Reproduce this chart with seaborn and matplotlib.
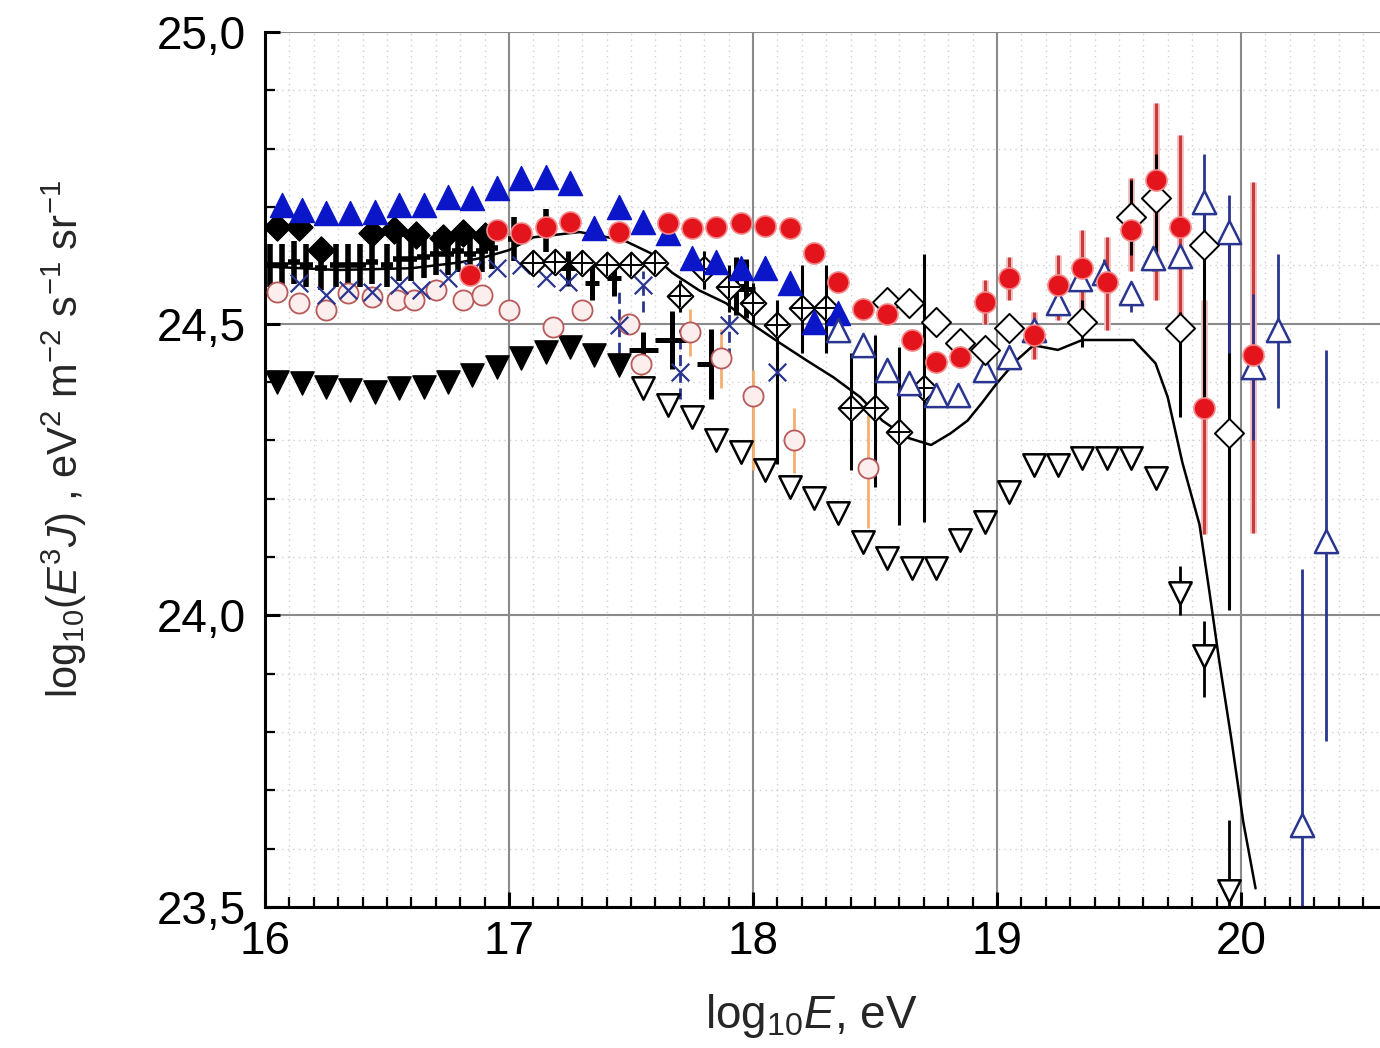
import matplotlib
matplotlib.use("Agg")
import numpy as np
import pandas as pd
import seaborn as sns
import matplotlib.pyplot as plt
from matplotlib.ticker import MultipleLocator, FuncFormatter

# ---------------- data (log10 E, log10 E^3 J) ----------------
blue_fill_x = [16.07, 16.15, 16.25, 16.35, 16.45, 16.55, 16.65, 16.75, 16.85, 16.95, 17.05, 17.15,
               17.25, 17.35, 17.45, 17.55, 17.65, 17.75, 17.85, 17.95, 18.05, 18.15, 18.25, 18.35]
blue_fill_y = [24.703, 24.695, 24.690, 24.690, 24.691, 24.703, 24.703, 24.717, 24.715, 24.732, 24.750, 24.751,
               24.741, 24.664, 24.700, 24.674, 24.655, 24.612, 24.605, 24.595, 24.595, 24.569, 24.503, 24.518]

dia_fill_x = [16.05, 16.14, 16.23, 16.44, 16.53, 16.62, 16.73, 16.81, 16.90]
dia_fill_y = [24.666, 24.666, 24.626, 24.655, 24.660, 24.652, 24.647, 24.655, 24.650]

cross_small_x = [16.02, 16.07, 16.12, 16.17, 16.23, 16.29, 16.34, 16.39, 16.44, 16.50, 16.55, 16.60,
                 16.65, 16.70, 16.75, 16.79, 16.84, 16.89, 16.93, 17.02, 17.15]
cross_small_y = [24.600, 24.600, 24.605, 24.600, 24.595, 24.600, 24.600, 24.600, 24.605, 24.600, 24.610, 24.610,
                 24.615, 24.620, 24.620, 24.625, 24.620, 24.625, 24.630, 24.645, 24.660]

cross_big_x = [17.24, 17.34, 17.43, 17.55, 17.67, 17.83, 17.93, 17.97]
cross_big_y = [24.595, 24.570, 24.578, 24.455, 24.472, 24.430, 24.565, 24.560]
cross_big_xerr = [0.03, 0.03, 0.03, 0.06, 0.07, 0.06, 0.04, 0.04]
cross_big_yerr = [0.03, 0.03, 0.03, 0.03, 0.05, 0.06, 0.05, 0.05]

xmark_x = [16.14, 16.25, 16.34, 16.44, 16.55, 16.64, 16.75, 16.85, 16.95, 17.05, 17.15, 17.24,
           17.45, 17.55, 17.70, 17.90, 18.10]
xmark_y = [24.569, 24.549, 24.557, 24.554, 24.566, 24.557, 24.578, 24.592, 24.595, 24.600, 24.578, 24.571,
           24.497, 24.566, 24.417, 24.497, 24.417]
xmark_lo = [24.569, 24.549, 24.557, 24.554, 24.566, 24.557, 24.578, 24.592, 24.595, 24.600, 24.578, 24.571,
            24.42, 24.52, 24.37, 24.44, 24.262]
xmark_hi = [24.569, 24.549, 24.557, 24.554, 24.566, 24.557, 24.578, 24.592, 24.595, 24.600, 24.578, 24.571,
            24.56, 24.59, 24.49, 24.57, 24.494]

circ_x = [16.05, 16.14, 16.25, 16.34, 16.44, 16.54, 16.61, 16.70, 16.81, 16.89, 17.00, 17.18,
          17.30, 17.49, 17.54, 17.74, 17.87, 18.00, 18.17, 18.47]
circ_y = [24.554, 24.535, 24.523, 24.552, 24.545, 24.540, 24.540, 24.557, 24.540, 24.549, 24.523, 24.494,
          24.523, 24.499, 24.431, 24.485, 24.441, 24.376, 24.300, 24.252]
circ_lo = [24.554, 24.535, 24.523, 24.552, 24.545, 24.540, 24.540, 24.557, 24.540, 24.549, 24.523, 24.494,
           24.523, 24.499, 24.41, 24.445, 24.39, 24.25, 24.244, 24.15]
circ_hi = [24.554, 24.535, 24.523, 24.552, 24.545, 24.540, 24.540, 24.557, 24.540, 24.549, 24.523, 24.494,
           24.523, 24.499, 24.45, 24.525, 24.49, 24.42, 24.355, 24.35]

tri_dn_fill_x = [16.05, 16.15, 16.25, 16.35, 16.45, 16.55, 16.65, 16.75, 16.85, 16.95, 17.05, 17.15,
                 17.25, 17.35, 17.45]
tri_dn_fill_y = [24.400, 24.398, 24.391, 24.386, 24.383, 24.389, 24.391, 24.400, 24.412, 24.425, 24.441, 24.451,
                 24.460, 24.446, 24.429]

tri_dn_open_x = [17.55, 17.65, 17.75, 17.85, 17.95, 18.05, 18.15, 18.25, 18.35, 18.45, 18.55, 18.65,
                 18.75, 18.85, 18.95, 19.05, 19.15, 19.25, 19.35, 19.45, 19.55, 19.65, 19.75, 19.85, 19.95]
tri_dn_open_y = [24.389, 24.360, 24.340, 24.300, 24.280, 24.249, 24.220, 24.201, 24.175, 24.125, 24.098, 24.081,
                 24.081, 24.129, 24.160, 24.211, 24.257, 24.257, 24.269, 24.269, 24.269, 24.235, 24.039, 23.931, 23.528]
tri_dn_err_x = [19.75, 19.85, 19.95]
tri_dn_err_y = [24.039, 23.931, 23.528]
tri_dn_err_lo = [24.00, 23.86, 23.50]
tri_dn_err_hi = [24.085, 23.99, 23.65]

red_x = [16.84, 16.95, 17.05, 17.15, 17.25, 17.45, 17.65, 17.75, 17.85, 17.95, 18.05, 18.15,
         18.25, 18.35, 18.45, 18.55, 18.65, 18.75, 18.85, 18.95, 19.05, 19.15, 19.25, 19.35,
         19.45, 19.55, 19.65, 19.75, 19.85, 20.05]
red_y = [24.583, 24.660, 24.655, 24.666, 24.674, 24.657, 24.672, 24.664, 24.666, 24.672, 24.667, 24.664,
         24.621, 24.571, 24.525, 24.516, 24.472, 24.434, 24.443, 24.537, 24.578, 24.480, 24.566, 24.595,
         24.571, 24.660, 24.746, 24.666, 24.355, 24.446]
red_err_x = [18.95, 19.05, 19.15, 19.25, 19.35, 19.45, 19.55, 19.65, 19.75, 19.85, 20.05]
red_err_y = [24.537, 24.578, 24.480, 24.566, 24.595, 24.571, 24.660, 24.746, 24.666, 24.355, 24.446]
red_err_lo = [24.50, 24.54, 24.44, 24.506, 24.523, 24.489, 24.59, 24.54, 24.506, 24.14, 24.142]
red_err_hi = [24.575, 24.615, 24.52, 24.617, 24.66, 24.648, 24.75, 24.878, 24.823, 24.54, 24.743]

dia_open_x = [18.55, 18.64, 18.75, 18.85, 18.95, 19.05, 19.35, 19.55, 19.65, 19.75, 19.85, 19.95]
dia_open_y = [24.537, 24.535, 24.503, 24.467, 24.455, 24.492, 24.503, 24.683, 24.715, 24.492, 24.635, 24.312]
dia_open_lo = [24.537, 24.535, 24.503, 24.467, 24.455, 24.492, 24.46, 24.617, 24.60, 24.34, 24.37, 24.01]
dia_open_hi = [24.537, 24.535, 24.503, 24.467, 24.455, 24.492, 24.54, 24.746, 24.79, 24.52, 24.70, 24.64]

tri_up_open_x = [18.35, 18.45, 18.55, 18.64, 18.75, 18.84, 18.95, 19.05, 19.15, 19.25, 19.34, 19.44,
                 19.55, 19.64, 19.75, 19.85, 19.95, 20.05, 20.15, 20.25, 20.35]
tri_up_open_y = [24.489, 24.463, 24.420, 24.398, 24.377, 24.377, 24.420, 24.443, 24.489, 24.535, 24.576, 24.587,
                 24.552, 24.612, 24.616, 24.708, 24.657, 24.425, 24.489, 23.641, 24.127]
tri_up_open_lo = [24.489, 24.463, 24.420, 24.398, 24.377, 24.377, 24.420, 24.443, 24.489, 24.515, 24.56, 24.57,
                  24.52, 24.59, 24.60, 24.64, 24.45, 24.30, 24.355, 23.50, 23.785]
tri_up_open_hi = [24.489, 24.463, 24.420, 24.398, 24.377, 24.377, 24.420, 24.443, 24.489, 24.555, 24.60, 24.61,
                  24.57, 24.63, 24.63, 24.79, 24.72, 24.55, 24.62, 24.08, 24.455]

oplus_x = [17.10, 17.19, 17.30, 17.40, 17.50, 17.60, 17.70, 17.80, 17.90, 18.00, 18.10, 18.20,
           18.30, 18.40, 18.50, 18.60, 18.70]
oplus_y = [24.604, 24.605, 24.604, 24.600, 24.600, 24.604, 24.547, 24.593, 24.563, 24.535, 24.497, 24.527,
           24.527, 24.355, 24.355, 24.314, 24.389]
oplus_lo = [24.604, 24.605, 24.604, 24.600, 24.600, 24.604, 24.52, 24.56, 24.52, 24.50, 24.26, 24.45,
            24.45, 24.25, 24.22, 24.155, 24.16]
oplus_hi = [24.604, 24.605, 24.604, 24.600, 24.600, 24.604, 24.575, 24.625, 24.60, 24.57, 24.54, 24.60,
            24.60, 24.45, 24.48, 24.46, 24.62]

model_x = [16.00, 16.30, 16.60, 16.80, 16.90, 17.00, 17.10, 17.29, 17.47, 17.58, 17.67, 17.78,
           17.89, 17.99, 18.11, 18.22, 18.33, 18.44, 18.53, 18.63, 18.73, 18.81, 18.88, 18.94,
           19.00, 19.08, 19.15, 19.25, 19.35, 19.56, 19.65, 19.70, 19.76, 19.83, 19.87, 19.91,
           19.96, 20.01, 20.06]
model_y = [24.598, 24.592, 24.595, 24.605, 24.614, 24.626, 24.648, 24.657, 24.643, 24.621, 24.587, 24.557,
           24.535, 24.501, 24.467, 24.437, 24.408, 24.374, 24.334, 24.305, 24.292, 24.312, 24.334, 24.365,
           24.398, 24.437, 24.463, 24.455, 24.472, 24.472, 24.432, 24.374, 24.262, 24.156, 24.043, 23.925,
           23.790, 23.645, 23.532]

x_ticks = [16, 17, 18, 19, 20]
y_ticks = [23.5, 24.0, 24.5, 25.0]

# ---------------- style ----------------
sns.set_style("white")
plt.rcParams["font.family"] = ["Liberation Sans", "DejaVu Sans"]
plt.rcParams["mathtext.fontset"] = "custom"
plt.rcParams["mathtext.rm"] = "Liberation Sans"
plt.rcParams["mathtext.it"] = "Liberation Sans:italic"
plt.rcParams["mathtext.default"] = "regular"

fig = plt.figure(figsize=(13.8, 10.48), dpi=100)
ax = fig.add_axes([0.192, 0.1345, 0.808, 0.835])

FS = 33

# grids
ax.xaxis.set_major_locator(MultipleLocator(1))
ax.xaxis.set_minor_locator(MultipleLocator(0.1))
ax.yaxis.set_major_locator(MultipleLocator(0.5))
ax.yaxis.set_minor_locator(MultipleLocator(0.1))
ax.grid(which="minor", color="#d0d0d0", linestyle=(0, (1, 3)), linewidth=1.0)
ax.grid(which="major", color="#8a8a8a", linestyle="-", linewidth=1.5)
ax.set_axisbelow(True)


def ebar(x, y, lo, hi, color, lw, ls="-", z=2):
    y = np.asarray(y); lo = np.asarray(lo); hi = np.asarray(hi)
    eb = ax.errorbar(x, y, yerr=[y - lo, hi - y], fmt="none", ecolor=color,
                     elinewidth=lw, capsize=0, zorder=z)
    if ls != "-":
        for c in eb[2]:
            c.set_linestyle(ls)


# error bars (behind markers)
ebar(circ_x, circ_y, circ_lo, circ_hi, "#f3b070", 2.0)
ebar(red_err_x, red_err_y, red_err_lo, red_err_hi, "#f5c0c0", 5.0, z=1.9)
ebar(red_err_x, red_err_y, red_err_lo, red_err_hi, "#c83c3c", 2.2)
ebar(dia_open_x, dia_open_y, dia_open_lo, dia_open_hi, "black", 2.2)
ebar(tri_up_open_x, tri_up_open_y, tri_up_open_lo, tri_up_open_hi, "#2a3590", 2.0)
ebar(xmark_x, xmark_y, xmark_lo, xmark_hi, "#2a3590", 2.0, ls=(0, (4, 2)))
ebar(oplus_x, oplus_y, oplus_lo, oplus_hi, "black", 2.2)
ebar(tri_dn_err_x, tri_dn_err_y, tri_dn_err_lo, tri_dn_err_hi, "black", 2.0)

ax.errorbar(cross_small_x, cross_small_y, xerr=0.025, yerr=0.037, fmt="none",
            ecolor="black", elinewidth=4.0, capsize=0, zorder=3)
ax.errorbar(cross_big_x, cross_big_y, xerr=cross_big_xerr, yerr=cross_big_yerr, fmt="none",
            ecolor="black", elinewidth=3.6, capsize=0, zorder=3)

# model line
sns.lineplot(x=model_x, y=model_y, color="black", linewidth=1.8, sort=False,
             estimator=None, ax=ax, zorder=4)

# markers
sns.scatterplot(x=tri_dn_fill_x, y=tri_dn_fill_y, marker="v", s=280, color="black",
                edgecolor="black", linewidth=1, ax=ax, zorder=5)
sns.scatterplot(x=tri_dn_open_x, y=tri_dn_open_y, marker="v", s=260, facecolor="white",
                edgecolor="black", linewidth=1.8, ax=ax, zorder=5)
sns.scatterplot(x=circ_x, y=circ_y, marker="o", s=210, facecolor="#fdeeee",
                edgecolor="#b85a5a", linewidth=1.3, ax=ax, zorder=5)
sns.scatterplot(x=xmark_x, y=xmark_y, marker="x", s=160, color="#2a3590",
                linewidth=1.6, ax=ax, zorder=5)
sns.scatterplot(x=dia_fill_x, y=dia_fill_y, marker="D", s=190, color="black",
                edgecolor="black", linewidth=1, ax=ax, zorder=5)
sns.scatterplot(x=oplus_x, y=oplus_y, marker="D", s=170, facecolor="white",
                edgecolor="black", linewidth=1.5, ax=ax, zorder=5)
sns.scatterplot(x=oplus_x, y=oplus_y, marker="+", s=260, color="black",
                linewidth=1.4, ax=ax, zorder=6)
sns.scatterplot(x=blue_fill_x, y=blue_fill_y, marker="^", s=300, color="#0b16c8",
                edgecolor="#0b16c8", linewidth=1, ax=ax, zorder=6)
sns.scatterplot(x=tri_up_open_x, y=tri_up_open_y, marker="^", s=280, facecolor="white",
                edgecolor="#2a3590", linewidth=1.8, ax=ax, zorder=6)
sns.scatterplot(x=dia_open_x, y=dia_open_y, marker="D", s=220, facecolor="white",
                edgecolor="black", linewidth=1.4, ax=ax, zorder=6)
sns.scatterplot(x=red_x, y=red_y, marker="o", s=230, color="#e3141c",
                edgecolor="#f28a8a", linewidth=1.2, ax=ax, zorder=7)

# axes
ax.set_xlim(16, 20.57)
ax.set_ylim(23.5, 25.0)
ax.set_xticks(x_ticks)
ax.set_yticks(y_ticks)
ax.yaxis.set_major_formatter(FuncFormatter(lambda v, p: f"{v:.1f}".replace(".", ",")))
ax.xaxis.set_major_formatter(FuncFormatter(lambda v, p: f"{int(round(v))}"))

for s in ["top", "right"]:
    ax.spines[s].set_visible(False)
for s in ["left", "bottom"]:
    ax.spines[s].set_color("black")
    ax.spines[s].set_linewidth(2.2)

ax.tick_params(which="major", direction="in", length=11, width=2.2, colors="black",
               labelsize=FS, left=True, bottom=True)
ax.tick_params(which="minor", direction="in", length=7, width=1.6, colors="black",
               left=True, bottom=True)
ax.tick_params(axis="x", which="major", pad=9)
ax.tick_params(axis="y", which="major", pad=14)

ax.set_xlabel(r"log$_{10}$$\mathit{E}$, eV", fontsize=FS)
ax.set_ylabel(r"log$_{10}$($\mathit{E}^{3}\mathit{J}$) , eV$^{2}$ m$^{-2}$ s$^{-1}$ sr$^{-1}$", fontsize=30)
ax.xaxis.set_label_coords(0.49, -0.097)
ax.yaxis.set_label_coords(-0.158, 0.535)

fig.savefig("out.png", dpi=100, facecolor="white")
